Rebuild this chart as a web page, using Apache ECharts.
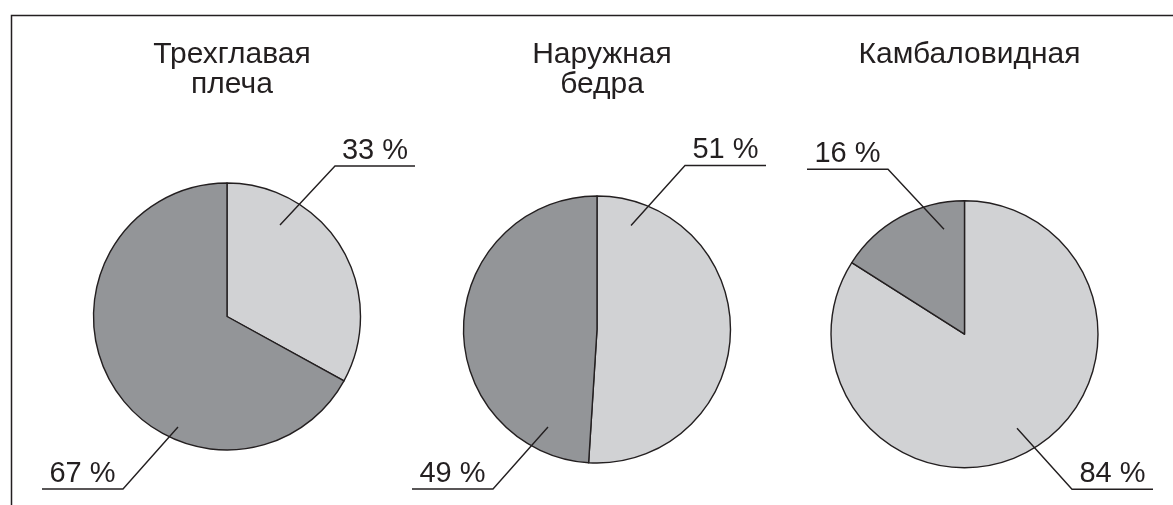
<!DOCTYPE html>
<html>
<head>
<meta charset="utf-8">
<style>
  html, body { margin: 0; padding: 0; background: #ffffff; }
  #chart { width: 1173px; height: 505px; }
</style>
<script src="https://cdn.jsdelivr.net/npm/echarts@6/dist/echarts.min.js"></script>
</head>
<body>
<div id="chart"></div>
<script>
// ---- data ----
const pieTitles = ['Трехглавая\nплеча', 'Наружная\nбедра', 'Камбаловидная'];
const sliceNames = ['светлый', 'тёмный'];
const lightValues = [33, 51, 84];
const darkValues = [67, 49, 16];

// ---- layout (pixels) ----
const FONT = '"Liberation Sans", Arial, sans-serif';
const INK = '#231f20';
const LIGHT = '#d1d2d4';
const DARK = '#939598';
const R = 133.5;
const centers = [[227, 316.5], [597, 329.5], [964.5, 334.2]];
// label guide geometry relative to pie center: [start, elbow, end]
const guides = [
  [[[53, -91.5], [108, -150.5], [188, -150.5]], [[-49, 110.5], [-104, 172.5], [-185, 172.5]]],
  [[[34, -104], [88, -164], [169, -164]], [[-49, 97.5], [-104, 159.5], [-185, 159.5]]],
  [[[52.5, 94], [107.5, 155], [188.5, 155]], [[-20.5, -105], [-76.5, -165], [-157.5, -165]]]
];

const chart = echarts.init(document.getElementById('chart'), null, { renderer: 'canvas' });

function pieData(i, withColor) {
  return [
    { name: sliceNames[0], value: lightValues[i], itemStyle: withColor ? { color: LIGHT } : { color: 'rgba(0,0,0,0)' } },
    { name: sliceNames[1], value: darkValues[i], itemStyle: withColor ? { color: DARK } : { color: 'rgba(0,0,0,0)' } }
  ];
}

const series = [];
const titles = [];
pieTitles.forEach((t, i) => {
  const c = centers[i];
  titles.push({
    text: t,
    left: c[0],
    top: 35,
    textAlign: 'center',
    textStyle: { fontFamily: FONT, fontSize: 30, fontWeight: 'normal', color: INK, lineHeight: 30 }
  });
  // base filled pie
  series.push({
    type: 'pie',
    z: 2,
    center: [c[0], c[1]],
    radius: [0, R],
    startAngle: 90,
    clockwise: true,
    silent: true,
    animation: false,
    itemStyle: { borderColor: INK, borderWidth: 1.4 },
    label: { show: false },
    labelLine: { show: false },
    data: pieData(i, true)
  });
  // transparent overlay pie carrying labels and guide lines on top
  series.push({
    type: 'pie',
    z: 5,
    center: [c[0], c[1]],
    radius: [0, R],
    startAngle: 90,
    clockwise: true,
    avoidLabelOverlap: false,
    silent: true,
    animation: false,
    itemStyle: { borderWidth: 0 },
    label: {
      show: true,
      formatter: '{c} %',
      fontFamily: FONT,
      fontSize: 29,
      color: INK
    },
    labelLine: { show: true, lineStyle: { color: INK, width: 1.4 } },
    labelLayout: (function (idx) {
      return function (p) {
        const g = guides[idx][p.dataIndex];
        const cc = centers[idx];
        const pts = g.map(q => [cc[0] + q[0], cc[1] + q[1]]);
        return {
          x: (pts[1][0] + pts[2][0]) / 2,
          y: pts[2][1] - 1,
          align: 'center',
          verticalAlign: 'bottom',
          labelLinePoints: pts
        };
      };
    })(i),
    data: pieData(i, false)
  });
});

chart.setOption({
  backgroundColor: '#ffffff',
  animation: false,
  title: titles,
  graphic: [
    { type: 'polyline', shape: { points: [[11.5, 520], [11.5, 15.5], [1180, 15.5]] },
      style: { stroke: INK, lineWidth: 1.5, fill: null }, silent: true }
  ],
  series: series
});
</script>
</body>
</html>
